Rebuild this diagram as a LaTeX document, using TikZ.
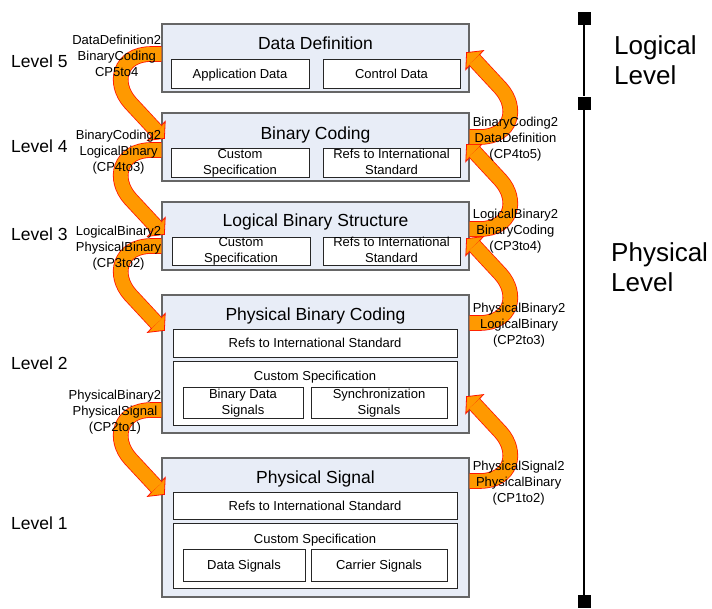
\documentclass[tikz,border=0pt]{standalone}
\usepackage{fontspec}
\setmainfont{Liberation Sans}
\usetikzlibrary{calc}

\definecolor{layerfill}{RGB}{232,237,247}
\definecolor{cporange}{RGB}{255,153,0}
\definecolor{cpred}{RGB}{255,20,0}

\tikzset{
  layer/.style={draw=black!60, line width=1.2pt, fill=layerfill, minimum width=307pt, inner sep=0pt},
  layertitle/.style={anchor=base, inner sep=0pt, font=\fontsize{17.5}{20}\selectfont},
  partbox/.style={draw=black!85, line width=0.9pt, fill=white, inner sep=0pt, align=center, font=\fontsize{13}{16}\selectfont},
  oneline/.style={text height=9.3pt, text depth=0pt},
  twoline/.style={text depth=2pt},
  parttext/.style={anchor=base, inner sep=0pt, font=\fontsize{13}{16}\selectfont},
  cpband/.style={draw=cpred, line width=0.8pt, double=cporange, double distance=14pt},
  cphead/.style={draw=cpred, line width=0.8pt, fill=cporange, line join=miter},
  cplabel/.style={align=center, inner sep=0pt, font=\fontsize{13}{16}\selectfont},
  levelname/.style={anchor=west, inner sep=0pt, font=\fontsize{17.5}{20}\selectfont},
  bigname/.style={anchor=west, align=left, inner sep=0pt, font=\fontsize{26}{30.5}\selectfont},
  levelmark/.style={fill=black, minimum size=13pt, inner sep=0pt}
}

\begin{document}
\begin{tikzpicture}[x=1pt,y=-1pt]
  \useasboundingbox (0,0) rectangle (712,608);
  % the five layers
  \foreach \name/\y/\h/\title/\ty in {
    dd/58/68/Data Definition/43,
    bc/147/68/Binary Coding/133,
    lb/236/68/Logical Binary Structure/220,
    pb/364/138/Physical Binary Coding/314.5,
    ps/527.5/139/Physical Signal/477%
  } {
    \node[layer, minimum height=\h pt] (\name) at (315.5,\y) {};
    \node[layertitle] (\name-t) at (315.5,\ty+6.3) {\title};
  }
  \foreach \name/\x/\y/\w/\h/\st/\txt in {
    dd-a/240/73.5/138/29/oneline/Application Data,
    dd-b/391.5/73.5/137/29/oneline/Control Data,
    bc-a/240/162.5/138/29/twoline/{Custom\\Specification},
    bc-b/391.5/162.5/137/29/twoline/{Refs to International\\Standard},
    lb-a/241/251/138/28/twoline/{Custom\\Specification},
    lb-b/391.5/251/137/28/twoline/{Refs to International\\Standard},
    pb-a/315/343/284/28/oneline/Refs to International Standard,
    pb-b/315/393/284/64/oneline/{},
    pb-c/243/402.5/120/31/twoline/{Binary Data\\Signals},
    pb-d/379/402.5/136/31/twoline/{Synchronization\\Signals},
    ps-a/315/505.5/284/27/oneline/Refs to International Standard,
    ps-b/315/555.5/284/65/oneline/{},
    ps-c/244/565/122/32/oneline/Data Signals,
    ps-d/379/565/136/32/oneline/Carrier Signals%
  } {
    \node[partbox, \st, minimum width=\w pt, minimum height=\h pt] (\name) at (\x,\y) {\txt};
  }
  \node[parttext] (pb-s) at (315,380.6) {Custom Specification};
  \node[parttext] (ps-s) at (315,543.6) {Custom Specification};

  % connection points going down (left side)
  \foreach \src/\a/\dst/\b/\txt in {
    dd/-4/bc/26/{DataDefinition2\\BinaryCoding\\CP5to4},
    bc/3/lb/33/{BinaryCoding2\\LogicalBinary\\(CP4to3)},
    lb/10/pb/36/{LogicalBinary2\\PhysicalBinary\\(CP3to2)},
    pb/46/ps/37/{PhysicalBinary2\\PhysicalSignal\\(CP2to1)}%
  } {
    \coordinate (s) at ($(\src.west)+(0,\a)$);
    \coordinate (t) at ($(\dst.north west)+(3,\b)$);
    \filldraw[cphead] (t) -- ($(t)+(0.8,-17)$) -- ($(t)+(-16.8,2)$) -- cycle;
    \draw[cpband] (s) -- ($(s)+(-10,0)$) .. controls +(-32,0) and +(-18,-20) .. ($(t)+(-34,-35.5)$) -- ($(t)+(-7.6,-7.1)$);
    \node[cplabel, anchor=east] (\src-cp) at ($(s)+(0,2)$) {\txt};
  }

  % connection points going up (right side)
  \foreach \src/\a/\dst/\b/\txt in {
    ps/-46.5/pb/37/{PhysicalSignal2\\PhysicalBinary\\(CP1to2)},
    pb/-41/lb/32/{PhysicalBinary2\\LogicalBinary\\(CP2to3)},
    lb/-7/bc/37/{LogicalBinary2\\BinaryCoding\\(CP3to4)},
    bc/-10/dd/40/{BinaryCoding2\\DataDefinition\\(CP4to5)}%
  } {
    \coordinate (s) at ($(\src.east)+(0,\a)$);
    \coordinate (t) at ($(\dst.south east)+(-3,-\b)$);
    \filldraw[cphead] (t) -- ($(t)+(-0.8,17)$) -- ($(t)+(16.8,-2)$) -- cycle;
    \draw[cpband] (s) -- ($(s)+(10,0)$) .. controls +(32,0) and +(18,20) .. ($(t)+(34,35.5)$) -- ($(t)+(7.6,7.1)$);
    \node[cplabel, anchor=west] (\src-cq) at ($(s)+(3,2)$) {\txt};
  }

  % level names
  \foreach \lv/\y in {5/61.5, 4/146, 3/234, 2/363.5, 1/523} {
    \node[levelname] (lv\lv) at (11,\y) {Level \lv};
  }

  % logical / physical scale
  \node[levelmark] (m1) at (584,18.5) {};
  \node[levelmark] (m2) at (584,103) {};
  \node[levelmark] (m3) at (584,601.5) {};
  \draw[line width=1.3pt] (m1) -- (m2) -- (m3);
  \node[bigname] (logical) at (614,60) {Logical\\Level};
  \node[bigname] (physical) at (611,267) {Physical\\Level};
\end{tikzpicture}
\end{document}
